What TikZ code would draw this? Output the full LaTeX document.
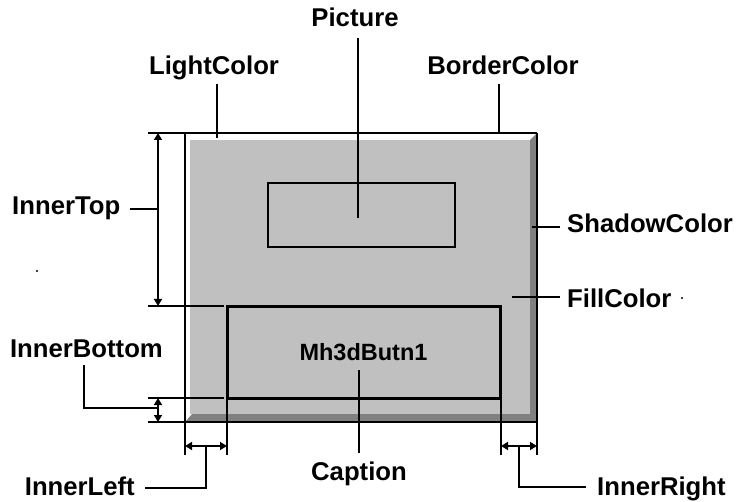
\documentclass[tikz,border=0pt]{standalone}
\usepackage{fontspec}
\setmainfont{Liberation Sans}
\usetikzlibrary{arrows.meta, positioning}
\definecolor{btnface}{HTML}{C0C0C0}
\definecolor{btnshade}{HTML}{808080}
\tikzset{
  lbl/.style ={font=\fontsize{25.7}{30}\selectfont\bfseries, inner sep=0pt},
  btntext/.style ={font=\fontsize{23.5}{27}\selectfont\bfseries, inner sep=0pt},
  lead/.style={line width=1.5pt},
  ext/.style ={line width=1.5pt},
  dim/.style ={{Triangle[length=7pt,width=8pt]}-{Triangle[length=7pt,width=8pt]}, line width=1.5pt}
}

\begin{document}
\begin{tikzpicture}[x=1pt, y=-1pt]
    \useasboundingbox (0,0) rectangle (738,502);
    % button faces
    \fill[btnface] (190,140) rectangle (530,414);
    \fill[btnshade] (536,134) -- (536,421) -- (186,421) -- (192,414) -- (530,414) -- (530,140) -- cycle;
    % outline and extension lines
    \draw[ext] (148,133) -- (537,133);
    \draw[ext] (185,133) -- (185,455);
    \draw[ext] (537,133) -- (537,455);
    \draw[ext] (148,422) -- (537,422);
    \draw[ext] (148,306) -- (224,306);
    \draw[ext] (148,398) -- (224,398);
    \draw[ext] (227,398) -- (227,455);
    \draw[ext] (501,398) -- (501,455);
    % picture and caption boxes
    \node[draw, line width=1.5pt, minimum width=187pt, minimum height=64pt] (pic) at (361.5,215) {};
    \node[draw, line width=3pt, minimum width=273pt, minimum height=92pt, btntext] (btn) at (363.5,352) {Mh3dButn1};
    % dimensions
    \coordinate (itA) at (158,133);
    \coordinate (itB) at (158,306);
    \coordinate (ibA) at (158,398);
    \coordinate (ibB) at (158,422);
    \coordinate (ilA) at (185,446);
    \coordinate (ilB) at (227,446);
    \coordinate (irA) at (501,446);
    \coordinate (irB) at (537,446);
    \draw[dim] (itA) -- (itB);
    \draw[dim] (ibA) -- (ibB);
    \draw[dim] (ilA) -- (ilB);
    \draw[dim] (irA) -- (irB);
    % labels
    \node[lbl, anchor=base] (picture) at (355,27) {Picture};
    \node[lbl, anchor=base] (light) at (214,75) {LightColor};
    \node[lbl, anchor=base] (border) at (503,75) {BorderColor};
    \node[lbl, anchor=base west] (shadow) at (567,233) {ShadowColor};
    \node[lbl, anchor=base west] (fillc) at (567,308) {FillColor};
    \node[lbl, anchor=base west] (innertop) at (12,215) {InnerTop};
    \node[lbl, anchor=base east] (innerbot) at (163,357) {InnerBottom};
    \node[lbl, anchor=base east] (innerleft) at (135,495) {InnerLeft};
    \node[lbl, anchor=base] (caption) at (359,480) {Caption};
    \node[lbl, anchor=base west] (innerright) at (597,495) {InnerRight};
    % leaders
    \coordinate (picEnd) at (358,218);
    \coordinate (lightEnd) at (217,138);
    \coordinate (borderEnd) at (499,133);
    \coordinate (shadowEnd) at (532,227);
    \coordinate (fillEnd) at (512,297);
    \coordinate (capEnd) at (359,370);
    \draw[lead] (358,38) -- (picEnd);
    \draw[lead] (217,84) -- (lightEnd);
    \draw[lead] (499,84) -- (borderEnd);
    \draw[lead] (560,227) -- (shadowEnd);
    \draw[lead] (560,297) -- (fillEnd);
    \draw[lead] (130,209) -- (158,209);
    \draw[lead] (84,365) -- (84,408) -- (158,408);
    \draw[lead] (capEnd) -- (359,453);
    \draw[lead] (206,446) -- (206,488) -- (145,488);
    \draw[lead] (519,446) -- (519,487) -- (586,487);
    % stray dots
    \fill (37,271) circle (1.1pt);
    \fill (682,298) circle (1.1pt);
\end{tikzpicture}
\end{document}
